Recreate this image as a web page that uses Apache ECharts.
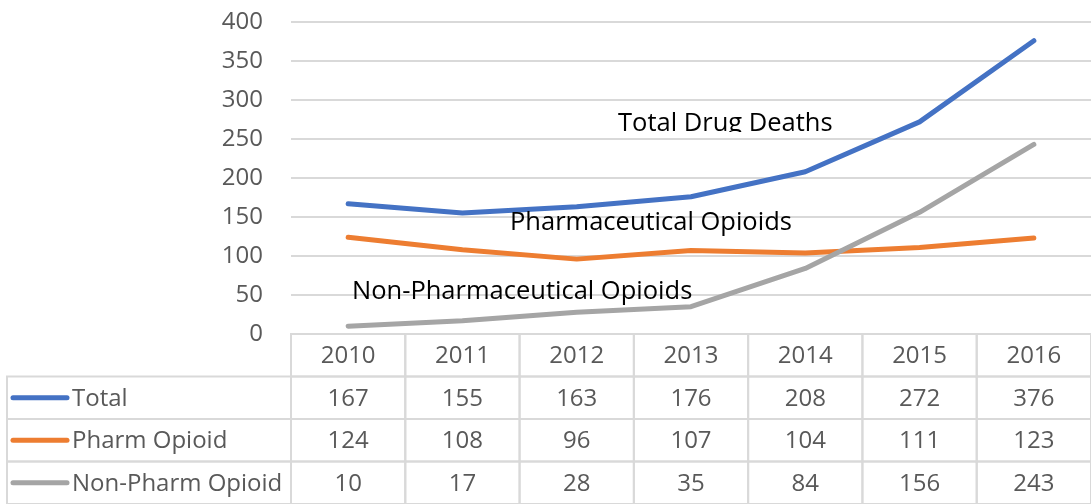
<!DOCTYPE html>
<html><head><meta charset="utf-8">
<script src="https://cdn.jsdelivr.net/npm/echarts@6/dist/echarts.min.js"></script>
<style>html,body{margin:0;padding:0;background:#fff}#c{width:1091px;height:504px}</style>
</head><body><div id="c"></div><script>
const years = ['2010','2011','2012','2013','2014','2015','2016'];
const totalDeaths = [167,155,163,176,208,272,376];
const pharmOpioid = [124,108,96,107,104,111,123];
const nonPharmOpioid = [10,17,28,35,84,156,243];
const seriesNames = ['Total','Pharm Opioid','Non-Pharm Opioid'];
const annotationTexts = ['Total Drug Deaths','Pharmaceutical Opioids','Non-Pharmaceutical Opioids'];
const yMin = 0, yMax = 400, yInterval = 50;

const colors = ['#4472C4','#ED7D31','#A5A5A5'];
const rowsData = [totalDeaths, pharmOpioid, nonPharmOpioid];
const FONT = '"Open Sans", sans-serif';
const GRID_LINE = '#d9d9d9';
const TXT = '#595959';
const ANN_FONT = '25.5px ' + FONT;

const cells = [];
years.forEach((y, c) => cells.push([c, 0]));
rowsData.forEach((vals, r) => vals.forEach((v, c) => cells.push([c, r + 1])));
seriesNames.forEach((n, r) => cells.push([-1, r + 1]));

function cellText(c, r) {
  if (r === 0) return years[c];
  if (c < 0) return seriesNames[r - 1];
  return String(rowsData[r - 1][c]);
}

const chart = echarts.init(document.getElementById('c'), null, {renderer: 'canvas'});
chart.setOption({
  animation: false,
  backgroundColor: '#fff',
  grid: [
    {left: 291, right: 0, top: 22, height: 312},
    {left: 291, right: -2, top: 334, bottom: -2}
  ],
  xAxis: [
    {type: 'category', gridIndex: 0, data: years, boundaryGap: true,
     axisLine: {show: false}, axisTick: {show: false}, axisLabel: {show: false}, splitLine: {show: false}},
    {type: 'category', gridIndex: 1, data: years, boundaryGap: true,
     axisLine: {show: false}, axisTick: {show: false}, axisLabel: {show: false}, splitLine: {show: false}}
  ],
  yAxis: [
    {type: 'value', gridIndex: 0, min: yMin, max: yMax, interval: yInterval,
     axisLine: {show: false}, axisTick: {show: false},
     axisLabel: {color: TXT, fontFamily: 'Open Sans', fontSize: 24, margin: 28},
     splitLine: {lineStyle: {color: GRID_LINE, width: 2}}},
    {type: 'category', gridIndex: 1, inverse: true, data: ['h','t','p','n'],
     axisLine: {show: false}, axisTick: {show: false}, axisLabel: {show: false}, splitLine: {show: false}}
  ],
  series: [
    ...rowsData.map((vals, i) => ({
      type: 'line', name: seriesNames[i], xAxisIndex: 0, yAxisIndex: 0,
      data: vals, symbol: 'none', smooth: false, z: 5,
      lineStyle: {color: colors[i], width: 5, cap: 'round', join: 'round'}
    })),
    {
      type: 'custom', xAxisIndex: 1, yAxisIndex: 1, clip: false, data: cells,
      renderItem: function (params, api) {
        const c = api.value(0), r = api.value(1);
        const sz = api.size([1, 1]);
        const w = sz[0], h = sz[1];
        const cs = params.coordSys;
        const pt = api.coord([Math.max(c, 0), r]);
        const cy = pt[1] + 1;
        if (c >= 0) {
          return {type: 'group', children: [
            {type: 'rect', shape: {x: pt[0] - w / 2, y: pt[1] - h / 2, width: w, height: h},
             style: {fill: 'transparent', stroke: GRID_LINE, lineWidth: 2}},
            {type: 'text', style: {x: pt[0], y: cy, text: cellText(c, r), fill: TXT,
             font: '24px ' + FONT, align: 'center', verticalAlign: 'middle'}}
          ]};
        }
        const x0 = cs.x - 284;
        return {type: 'group', children: [
          {type: 'rect', shape: {x: x0, y: pt[1] - h / 2, width: cs.x - x0, height: h},
           style: {fill: 'transparent', stroke: GRID_LINE, lineWidth: 2}},
          {type: 'line', shape: {x1: x0 + 6, y1: pt[1], x2: x0 + 60, y2: pt[1]},
           style: {stroke: colors[r - 1], lineWidth: 5, lineCap: 'round'}},
          {type: 'text', style: {x: x0 + 65, y: cy, text: cellText(c, r), fill: TXT,
           font: '24px ' + FONT, align: 'left', verticalAlign: 'middle'}}
        ]};
      }
    }
  ],
  graphic: [
    {type: 'text', left: 618, top: 111, z: 10, style: {text: annotationTexts[0], fill: '#000', font: ANN_FONT}},
    {type: 'rect', left: 610, top: 132, z: 11, shape: {width: 235, height: 6}, style: {fill: '#fff'}},
    {type: 'text', left: 510, top: 210, z: 10, style: {text: annotationTexts[1], fill: '#000', font: ANN_FONT}},
    {type: 'text', left: 352, top: 279, z: 10, style: {text: annotationTexts[2], fill: '#000', font: ANN_FONT}}
  ]
});
</script></body></html>
